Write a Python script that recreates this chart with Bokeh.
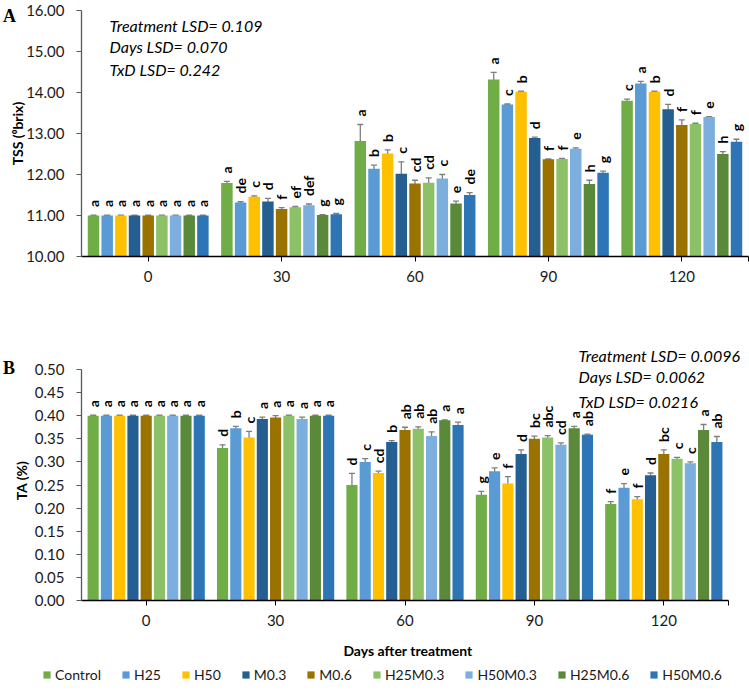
from math import pi
from bokeh.plotting import figure
from bokeh.models import (ColumnDataSource, Whisker, TeeHead, Legend, LegendItem, LinearAxis,
                          SingleIntervalTicker, FixedTicker, NumeralTickFormatter, Range1d)
from bokeh.layouts import column
from bokeh.core.properties import value
from bokeh.embed import file_html
from bokeh.resources import INLINE

# ---------------- data ----------------
days = ["0", "30", "60", "90", "120"]
treatments = ["Control", "H25", "H50", "M0.3", "M0.6", "H25M0.3", "H50M0.3", "H25M0.6", "H50M0.6"]
colors = ["#70AD47", "#5B9BD5", "#FFC000", "#255E91", "#9A7200",
          "#8CC168", "#7CAFDD", "#5A8A39", "#2E75B6"]

# TSS (0brix): one list per day, treatments in the order above
tss_d0 = [11.00, 11.00, 11.00, 11.00, 11.00, 11.00, 11.00, 11.00, 11.00]
tss_d30 = [11.79, 11.32, 11.46, 11.34, 11.16, 11.20, 11.25, 11.01, 11.03]
tss_d60 = [12.82, 12.14, 12.51, 12.02, 11.78, 11.80, 11.90, 11.29, 11.50]
tss_d90 = [14.32, 13.71, 14.02, 12.89, 12.37, 12.38, 12.63, 11.77, 12.04]
tss_d120 = [13.80, 14.22, 14.02, 13.59, 13.21, 13.23, 13.40, 12.50, 12.80]
tss_err_d0 = [0.01, 0.01, 0.01, 0.01, 0.01, 0.01, 0.01, 0.01, 0.01]
tss_err_d30 = [0.04, 0.02, 0.02, 0.08, 0.03, 0.02, 0.03, 0.01, 0.02]
tss_err_d60 = [0.40, 0.09, 0.09, 0.29, 0.08, 0.12, 0.10, 0.06, 0.06]
tss_err_d90 = [0.17, 0.01, 0.01, 0.02, 0.01, 0.01, 0.02, 0.09, 0.04]
tss_err_d120 = [0.04, 0.05, 0.01, 0.12, 0.12, 0.02, 0.01, 0.06, 0.06]
tss_let_d0 = ["a", "a", "a", "a", "a", "a", "a", "a", "a"]
tss_let_d30 = ["a", "de", "c", "d", "f", "ef", "def", "g", "g"]
tss_let_d60 = ["a", "b", "b", "c", "cd", "cd", "c", "e", "de"]
tss_let_d90 = ["a", "c", "b", "d", "f", "f", "e", "h", "g"]
tss_let_d120 = ["c", "a", "b", "d", "f", "f", "e", "h", "g"]

# TA (%)
ta_d0 = [0.400, 0.400, 0.400, 0.400, 0.400, 0.400, 0.400, 0.400, 0.400]
ta_d30 = [0.330, 0.373, 0.353, 0.393, 0.396, 0.400, 0.393, 0.400, 0.400]
ta_d60 = [0.250, 0.300, 0.276, 0.343, 0.369, 0.372, 0.356, 0.390, 0.380]
ta_d90 = [0.229, 0.280, 0.253, 0.317, 0.350, 0.353, 0.337, 0.373, 0.359]
ta_d120 = [0.209, 0.244, 0.219, 0.271, 0.317, 0.307, 0.297, 0.369, 0.343]
ta_err_d0 = [0.001, 0.001, 0.001, 0.001, 0.001, 0.001, 0.001, 0.001, 0.001]
ta_err_d30 = [0.007, 0.004, 0.013, 0.004, 0.004, 0.001, 0.004, 0.001, 0.001]
ta_err_d60 = [0.025, 0.007, 0.004, 0.003, 0.006, 0.004, 0.009, 0.001, 0.006]
ta_err_d90 = [0.007, 0.007, 0.015, 0.009, 0.006, 0.004, 0.004, 0.004, 0.001]
ta_err_d120 = [0.005, 0.009, 0.006, 0.005, 0.009, 0.003, 0.003, 0.012, 0.012]
ta_let_d0 = ["a", "a", "a", "a", "a", "a", "a", "a", "a"]
ta_let_d30 = ["d", "b", "c", "a", "a", "a", "a", "a", "a"]
ta_let_d60 = ["d", "c", "cd", "b", "ab", "ab", "ab", "a", "a"]
ta_let_d90 = ["g", "e", "f", "d", "bc", "abc", "cd", "a", "ab"]
ta_let_d120 = ["f", "e", "f", "d", "bc", "c", "c", "a", "ab"]

tss_lsd = ["Treatment LSD= 0.109", "Days LSD= 0.070", "TxD LSD= 0.242"]
ta_lsd = ["Treatment LSD= 0.0096", "Days LSD= 0.0062", "TxD LSD= 0.0216"]

tss_means = [tss_d0, tss_d30, tss_d60, tss_d90, tss_d120]
tss_errs = [tss_err_d0, tss_err_d30, tss_err_d60, tss_err_d90, tss_err_d120]
tss_lets = [tss_let_d0, tss_let_d30, tss_let_d60, tss_let_d90, tss_let_d120]
ta_means = [ta_d0, ta_d30, ta_d60, ta_d90, ta_d120]
ta_errs = [ta_err_d0, ta_err_d30, ta_err_d60, ta_err_d90, ta_err_d120]
ta_lets = [ta_let_d0, ta_let_d30, ta_let_d60, ta_let_d90, ta_let_d120]

# ---------------- styling / layout ----------------
FONT = "Lato"
SLOT = 0.1025      # bar slot inside a day group (group width = 1)
BAR_W = 0.086
ERR_COLOR = "#7F7F7F"
W = 749


def make_panel(height, ymin, ymax, interval, means, errs, lets,
               px_left, px_right, px_top, px_bottom):
    """px_*: pixel position of the plotting box inside the canvas."""
    xs = 5.0 / (px_right - px_left)            # data units per pixel (x)
    ys = (ymax - ymin) / (px_bottom - px_top)  # data units per pixel (y)
    xr = Range1d(-px_left * xs, 5.0 + (W - px_right) * xs)
    yr = Range1d(ymin - (height - px_bottom) * ys, ymax + px_top * ys)
    p = figure(width=W, height=height, x_range=xr, y_range=yr,
               x_axis_type=None, y_axis_type=None,
               output_backend="svg", toolbar_location=None,
               min_border=0)
    p.outline_line_color = None
    p.xgrid.grid_line_color = None
    p.ygrid.grid_line_color = None

    renderers = []
    for j, name in enumerate(treatments):
        off = (j - 4) * SLOT
        vals = [means[i][j] for i in range(len(days))]
        er = [errs[i][j] for i in range(len(days))]
        src = ColumnDataSource(dict(
            x=[i + 0.5 + off for i in range(len(days))], val=vals,
            upper=[v + e for v, e in zip(vals, er)],
            lower=[v - e for v, e in zip(vals, er)],
            lab=[lets[i][j] for i in range(len(days))]))
        r = p.vbar(x="x", top="val", bottom=ymin, width=BAR_W, source=src,
                   fill_color=colors[j], line_color=None)
        renderers.append(r)
        p.add_layout(Whisker(base="x", upper="upper", lower="lower", source=src,
                             line_color=ERR_COLOR, line_width=1.3,
                             upper_head=TeeHead(size=6, line_color=ERR_COLOR, line_width=1.3),
                             lower_head=TeeHead(size=6, line_color=ERR_COLOR, line_width=1.3)))
        p.text(x="x", y="upper", text="lab", source=src, angle=pi / 2,
               text_align="left", text_baseline="middle", y_offset=-8,
               text_font=value(FONT), text_font_style="bold",
               text_font_size="14px", text_color="black")

    yax = LinearAxis(fixed_location=0, bounds=(ymin, ymax),
                     ticker=SingleIntervalTicker(interval=interval),
                     formatter=NumeralTickFormatter(format="0.00"))
    yax.minor_tick_line_color = None
    yax.major_tick_in = 0
    yax.major_tick_out = 5
    yax.axis_line_color = "#595959"
    yax.major_tick_line_color = "#595959"
    yax.axis_line_width = 1.3
    yax.major_label_text_font = FONT
    yax.major_label_text_font_size = "15px"
    yax.major_label_text_color = "#1a1a1a"
    yax.major_label_standoff = 12
    p.add_layout(yax, "left")

    tick_pos = [i + 0.5 for i in range(len(days))] + [5.0]
    xax = LinearAxis(fixed_location=ymin, bounds=(0, 5),
                     ticker=FixedTicker(ticks=tick_pos),
                     major_label_overrides={**{i + 0.5: d for i, d in enumerate(days)}, 5.0: ""})
    xax.axis_line_color = "black"
    xax.axis_line_width = 1.5
    xax.major_tick_line_color = "black"
    xax.major_tick_in = 0
    xax.major_tick_out = 5
    xax.minor_tick_line_color = None
    xax.major_label_text_font = FONT
    xax.major_label_text_font_size = "15px"
    xax.major_label_text_color = "#1a1a1a"
    xax.major_label_standoff = 9
    p.add_layout(xax, "below")
    return p, renderers, xs, ys


def add_text(p, x, y, texts, size, style, angle=0.0, align="left", font=FONT):
    src = ColumnDataSource(dict(x=x, y=y, t=texts))
    p.text(x="x", y="y", text="t", source=src, angle=angle, text_align=align,
           text_baseline="middle", text_font=value(font), text_font_style=style,
           text_font_size=size, text_color="black")


# ---------------- panel A (TSS) ----------------
# plotting box in canvas pixels: left 81, right 748, top 10, bottom 256
pA, _, xsA, ysA = make_panel(298, 10, 16, 1, tss_means, tss_errs, tss_lets, 81, 748, 10, 256)
add_text(pA, [28 * xsA] * 3, [16 - 15 * ysA, 16 - 36 * ysA, 16 - 59 * ysA], tss_lsd,
         "16px", "italic")
add_text(pA, [-64 * xsA], [16 - 123 * ysA], ["TSS (\u2070brix)"], "14px", "bold",
         angle=pi / 2, align="center")
add_text(pA, [-72 * xsA], [16 - 5.5 * ysA], ["A"], "18px", "bold", align="center",
         font="Liberation Serif")

# ---------------- panel B (TA) ----------------
# plotting box in canvas pixels: left 81, right 728, top 71, bottom 302
pB, rB, xsB, ysB = make_panel(393, 0, 0.5, 0.05, ta_means, ta_errs, ta_lets, 81, 728, 71, 302)
add_text(pB, [497 * xsB] * 3, [0.5 + 14 * ysB, 0.5 - 7 * ysB, 0.5 - 32 * ysB], ta_lsd,
         "16px", "italic")
add_text(pB, [-60 * xsB], [0.5 - 111 * ysB], ["TA (%)"], "14px", "bold",
         angle=pi / 2, align="center")
add_text(pB, [-72.5 * xsB], [0.5 + 2 * ysB], ["B"], "18px", "bold", align="center",
         font="Liberation Serif")
add_text(pB, [2.5 + 3 * xsB], [-50 * ysB], ["Days after treatment"], "14px", "bold",
         align="center")

legend = Legend(items=[LegendItem(label=t, renderers=[r]) for t, r in zip(treatments, rB)],
                orientation="horizontal", location=(42, 8),
                glyph_width=9, glyph_height=9, label_height=14, label_standoff=4, spacing=20,
                label_text_font=FONT, label_text_font_size="14px",
                label_text_color="#1a1a1a", padding=0, margin=0,
                border_line_color=None, background_fill_alpha=0)
pB.add_layout(legend)

layout = column(pA, pB, spacing=0)
open("out.html", "w").write(file_html(layout, INLINE))
